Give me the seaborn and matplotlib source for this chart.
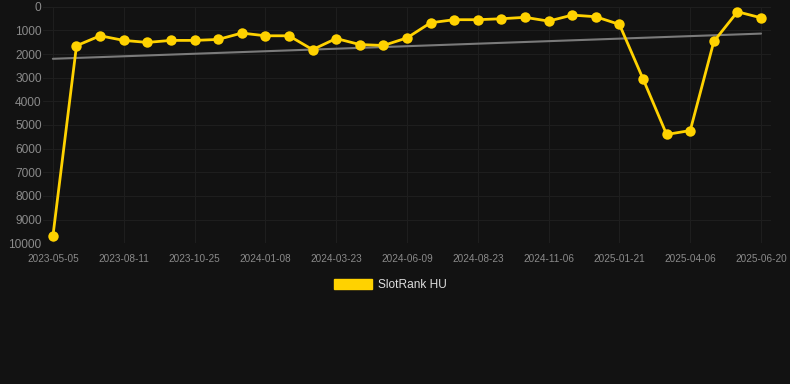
import numpy as np
import pandas as pd
import seaborn as sns
import matplotlib
matplotlib.use("Agg")
import matplotlib.pyplot as plt
from matplotlib.patches import Patch

# ---- data ----
tick_labels = ["2023-05-05", "2023-08-11", "2023-10-25", "2024-01-08", "2024-03-23",
               "2024-06-09", "2024-08-23", "2024-11-06", "2025-01-21", "2025-04-06",
               "2025-06-20"]
rank = [9700, 1650, 1230, 1425, 1510, 1425, 1425, 1385, 1115, 1230, 1230,
        1815, 1345, 1600, 1640, 1320, 680, 550, 550, 510, 450, 610,
        355, 425, 750, 3050, 5400, 5235, 1470, 215, 470]
series_name = "SlotRank HU"

df = pd.DataFrame({"idx": np.arange(len(rank)), "rank": rank})

BG = "#121212"
GRID = "#1e1e1e"
TXT = "#8a8a8a"
GOLD = "#FFD200"

sns.set_style("dark", {"axes.facecolor": BG, "figure.facecolor": BG,
                       "grid.color": GRID, "axes.grid": True})
plt.rcParams["font.family"] = ["Liberation Sans", "DejaVu Sans"]

fig = plt.figure(figsize=(7.9, 3.84), dpi=100)
ax = fig.add_axes([0.0544, 0.3664, 0.9215, 0.6162])
ax.set_facecolor(BG)

sns.regplot(data=df, x="idx", y="rank", scatter=False, ci=None, ax=ax,
            line_kws={"color": "#7a7a7a", "linewidth": 1.5}, truncate=True)
sns.lineplot(data=df, x="idx", y="rank", ax=ax, color=GOLD, linewidth=2.0,
             marker="o", markersize=7.5, markeredgewidth=0, zorder=5)

ax.set_ylim(10000, 0)
ax.set_yticks(np.arange(0, 10001, 1000))
ax.set_yticklabels([str(v) for v in range(0, 10001, 1000)])
ax.set_xlim(-0.42, len(rank) - 1 + 0.42)
ticks = np.arange(0, len(rank), 3)
ax.set_xticks(ticks)
ax.set_xticklabels(tick_labels)
ax.set_xlabel("")
ax.set_ylabel("")
ax.grid(True, color=GRID, linewidth=0.8)
ax.tick_params(axis="y", length=0, pad=1, labelsize=8.6, labelcolor=TXT)
ax.tick_params(axis="x", length=0, pad=8, labelsize=7.2, labelcolor=TXT)
for s in ax.spines.values():
    s.set_visible(False)

handle = [Patch(facecolor=GOLD, edgecolor=GOLD, label=series_name)]
fig.legend(handles=handle, loc="center", bbox_to_anchor=(0.494, 0.258),
           frameon=False, fontsize=8.6, labelcolor="#dddddd",
           handlelength=3.2, handleheight=1.0, handletextpad=0.5)

fig.savefig("out.png", dpi=100, facecolor=BG)
